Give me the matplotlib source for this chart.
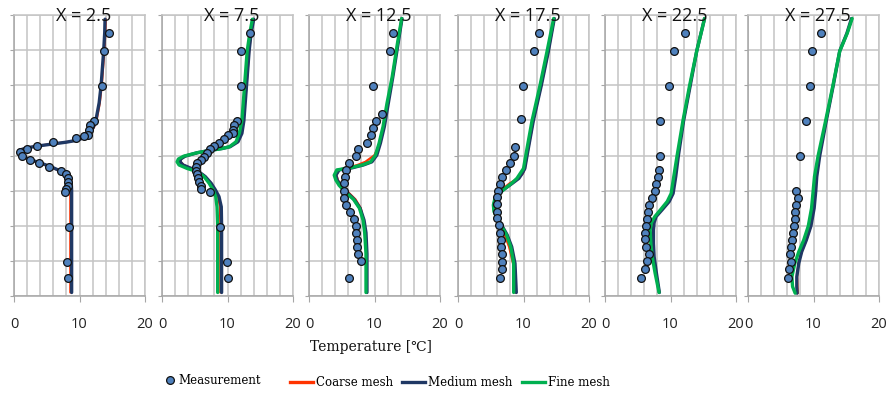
import matplotlib
matplotlib.use("Agg")
import matplotlib.pyplot as plt
from matplotlib.lines import Line2D

# ---------------- data ----------------
titles = ["X = 2.5", "X = 7.5", "X = 12.5", "X = 17.5", "X = 22.5", "X = 27.5"]
x_ticks = [0, 10, 20]

# measured temperature [C] and height (grid units)
meas_t1 = [14.55, 13.7, 13.4, 12.2, 11.6, 11.5, 11.35, 10.7, 9.5, 6.0, 3.56, 2.0, 0.9, 1.17,
           2.44, 3.87, 5.4, 7.2, 7.9, 8.3, 8.3, 8.24, 8.0, 7.8, 8.4, 8.14, 8.2]
meas_y1 = [7.48, 6.97, 5.98, 4.99, 4.87, 4.72, 4.58, 4.55, 4.49, 4.39, 4.28, 4.18, 4.09, 3.98,
           3.87, 3.80, 3.68, 3.57, 3.47, 3.37, 3.25, 3.14, 3.04, 2.97, 1.97, 0.98, 0.50]
meas_t2 = [13.4, 12.1, 12.05, 11.4, 11.0, 10.9, 10.8, 10.1, 9.4, 8.7, 7.9, 7.3, 6.9, 6.4, 5.9,
           5.4, 5.2, 5.2, 5.4, 5.5, 5.7, 5.9, 6.0, 7.3, 8.9, 9.9, 10.1]
meas_y2 = [7.48, 6.97, 5.98, 4.99, 4.87, 4.72, 4.63, 4.58, 4.48, 4.36, 4.28, 4.18, 4.08, 3.97,
           3.87, 3.78, 3.68, 3.57, 3.47, 3.37, 3.25, 3.14, 3.04, 2.97, 1.97, 0.98, 0.50]
meas_t3 = [12.8, 12.3, 9.8, 11.1, 10.3, 9.8, 9.4, 8.8, 7.5, 7.2, 6.05, 5.7, 5.5, 5.4, 5.4, 5.4,
           5.6, 6.3, 6.8, 7.1, 7.2, 7.3, 7.3, 7.5, 7.9, 6.05]
meas_y3 = [7.48, 6.97, 5.98, 5.18, 4.99, 4.77, 4.58, 4.37, 4.18, 3.98, 3.78, 3.59, 3.40, 3.21,
           3.00, 2.78, 2.59, 2.40, 2.18, 1.99, 1.80, 1.59, 1.39, 1.20, 1.00, 0.50]
meas_t4 = [12.3, 11.6, 9.9, 9.6, 8.7, 8.6, 7.9, 7.3, 6.7, 6.4, 6.05, 5.9, 5.9, 5.9, 6.0, 6.2,
           6.4, 6.5, 6.6, 6.7, 6.7, 6.7, 6.4]
meas_y4 = [7.48, 6.97, 5.98, 5.04, 4.25, 3.98, 3.78, 3.59, 3.40, 3.19, 3.00, 2.81, 2.62, 2.40,
           2.21, 2.02, 1.80, 1.59, 1.40, 1.20, 0.98, 0.76, 0.50]
meas_t5 = [12.25, 10.5, 9.8, 8.45, 8.45, 8.25, 8.1, 7.85, 7.6, 7.1, 6.7, 6.5, 6.4, 6.2, 6.1,
           6.1, 6.3, 6.7, 6.4, 6.1, 5.5]
meas_y5 = [7.48, 6.97, 5.98, 4.99, 3.98, 3.59, 3.40, 3.19, 3.00, 2.78, 2.59, 2.38, 2.19, 1.99,
           1.80, 1.61, 1.39, 1.20, 1.00, 0.76, 0.50]
meas_t6 = [11.2, 9.8, 9.5, 8.8, 7.9, 7.35, 7.65, 7.4, 7.2, 7.2, 7.0, 6.8, 6.7, 6.5, 6.4, 6.5,
           6.3, 6.1]
meas_y6 = [7.48, 6.97, 5.98, 4.99, 3.98, 3.00, 2.78, 2.59, 2.38, 2.19, 1.99, 1.80, 1.59, 1.39,
           1.20, 0.98, 0.76, 0.50]

# simulated profiles: heights and temperatures for coarse / medium / fine meshes
sim_y1 = [0.1, 1.0, 2.0, 3.0, 3.2, 3.35, 3.45, 3.55, 3.65, 3.75, 3.85, 3.95, 4.05, 4.15, 4.22,
          4.28, 4.33, 4.38, 4.43, 4.5, 4.6, 4.8, 5.0, 5.5, 6.0, 7.0, 7.5, 7.88]
coarse_t1 = [8.6, 8.6, 8.6, 8.6, 8.55, 8.35, 7.9, 7.1, 5.9, 4.5, 2.9, 1.5, 0.85, 0.75, 1.9,
             3.9, 5.9, 7.9, 9.4, 10.6, 11.5, 12.2, 12.6, 13.1, 13.4, 13.8, 13.95, 14.0]
medium_t1 = [8.8, 8.8, 8.8, 8.8, 8.75, 8.5, 8.0, 7.2, 6.0, 4.6, 3.0, 1.6, 0.9, 0.8, 2.0,
             4.0, 6.0, 8.0, 9.5, 10.6, 11.4, 12.1, 12.5, 13.0, 13.3, 13.7, 13.85, 13.9]
fine_t1 = None

sim_y2 = [0.1, 1.0, 2.0, 2.54, 2.83, 3.02, 3.21, 3.40, 3.54, 3.63, 3.73, 3.82, 3.9, 3.98, 4.08,
          4.16, 4.2, 4.25, 4.39, 4.63, 4.99, 5.98, 6.97, 7.48, 7.88]
coarse_t2 = [8.9, 8.9, 8.9, 8.85, 8.55, 8.05, 7.45, 6.6, 5.6, 4.5, 3.3, 2.85, 2.9, 3.6, 5.5,
             7.9, 9.2, 10.3, 11.4, 12.0, 12.4, 12.9, 13.3, 13.6, 14.0]
medium_t2 = [9.1, 9.1, 9.1, 9.05, 8.7, 8.15, 7.5, 6.6, 5.6, 4.5, 3.2, 2.75, 2.85, 3.5, 5.4,
             7.8, 9.2, 10.4, 11.6, 12.2, 12.5, 12.9, 13.3, 13.6, 14.0]
fine_t2 = [8.5, 8.5, 8.5, 8.4, 8.2, 7.8, 7.2, 6.4, 5.4, 3.85, 2.6, 2.3, 2.5, 3.3, 5.4,
           7.9, 9.2, 10.3, 11.3, 11.8, 12.2, 12.6, 13.0, 13.4, 13.8]

sim_y3 = [0.1, 0.6, 1.2, 1.8, 2.16, 2.5, 2.75, 2.97, 3.15, 3.3, 3.44, 3.59, 3.65, 3.73, 3.82,
          4.01, 4.35, 4.82, 5.48, 6.24, 7.19, 7.9]
coarse_t3 = [8.8, 8.8, 8.8, 8.6, 8.3, 7.9, 7.1, 5.9, 4.9, 4.4, 4.2, 4.5, 5.9, 7.4, 8.6,
             10.0, 10.8, 11.4, 12.0, 12.75, 13.55, 14.2]
medium_t3 = [8.85, 8.85, 8.85, 8.7, 8.4, 7.8, 6.9, 5.7, 4.8, 4.3, 4.1, 4.6, 6.6, 8.3, 9.6,
             10.35, 10.9, 11.5, 12.1, 12.8, 13.6, 14.2]
fine_t3 = [8.7, 8.7, 8.7, 8.5, 8.25, 7.7, 6.8, 5.5, 4.6, 4.1, 3.85, 4.25, 6.3, 8.1, 9.4,
           10.15, 10.7, 11.3, 11.9, 12.7, 13.5, 14.15]

sim_y4 = [0.1, 0.93, 1.4, 1.74, 1.97, 2.21, 2.40, 2.59, 2.75, 2.92, 3.02, 3.21, 3.35, 3.49,
          3.63, 4.06, 4.99, 5.98, 6.97, 7.9]
coarse_t4 = [8.7, 8.4, 7.8, 7.1, 6.5, 5.9, 5.5, 5.4, 5.6, 6.1, 6.6, 7.9, 9.2, 9.9,
             10.2, 10.6, 11.5, 12.7, 13.8, 14.7]
medium_t4 = [8.9, 8.7, 8.2, 7.5, 6.8, 6.1, 5.6, 5.5, 5.7, 6.3, 6.9, 8.3, 9.3, 9.8,
             10.2, 10.6, 11.5, 12.7, 13.8, 14.7]
fine_t4 = [8.5, 8.5, 8.05, 7.4, 6.7, 6.0, 5.5, 5.4, 5.6, 6.3, 6.9, 8.2, 9.0, 9.5,
           10.0, 10.4, 11.3, 12.5, 13.6, 14.6]

sim_y5 = [0.1, 0.65, 1.12, 1.5, 1.88, 2.09, 2.26, 2.45, 2.69, 2.92, 3.4, 3.99, 4.99, 5.98,
          6.97, 7.9]
coarse_t5 = [8.3, 7.8, 7.45, 7.35, 7.35, 7.4, 7.7, 8.5, 9.6, 10.2, 10.65, 11.1, 12.0, 13.0,
             14.0, 15.2]
medium_t5 = [8.3, 7.85, 7.5, 7.4, 7.4, 7.5, 7.8, 8.7, 9.8, 10.4, 10.8, 11.2, 12.0, 13.0,
             14.0, 15.2]
fine_t5 = [8.25, 7.65, 7.2, 7.0, 6.9, 7.1, 7.6, 8.45, 9.5, 10.1, 10.5, 11.0, 11.9, 12.9,
           14.0, 15.2]

sim_y6 = [0.08, 0.27, 0.55, 0.93, 1.26, 1.59, 1.99, 2.5, 3.0, 3.4, 3.99, 4.99, 5.98, 6.97,
          7.48, 7.9]
coarse_t6 = [7.6, 7.55, 7.5, 7.7, 8.2, 8.9, 9.6, 10.05, 10.3, 10.45, 10.9, 11.95, 13.0, 14.0,
             15.15, 15.9]
medium_t6 = [7.5, 7.45, 7.45, 7.75, 8.2, 8.9, 9.6, 10.1, 10.35, 10.5, 10.95, 11.95, 13.0, 14.0,
             15.1, 15.8]
fine_t6 = [7.2, 6.8, 6.7, 7.15, 7.75, 8.5, 9.2, 9.7, 9.95, 10.15, 10.7, 11.85, 12.95, 14.0,
           15.15, 15.9]

meas_t = [meas_t1, meas_t2, meas_t3, meas_t4, meas_t5, meas_t6]
meas_y = [meas_y1, meas_y2, meas_y3, meas_y4, meas_y5, meas_y6]
sim_y = [sim_y1, sim_y2, sim_y3, sim_y4, sim_y5, sim_y6]
coarse_t = [coarse_t1, coarse_t2, coarse_t3, coarse_t4, coarse_t5, coarse_t6]
medium_t = [medium_t1, medium_t2, medium_t3, medium_t4, medium_t5, medium_t6]
fine_t = [fine_t1, fine_t2, fine_t3, fine_t4, fine_t5, fine_t6]

# ---------------- styling ----------------
C_MEAS = "#4F81BD"
C_COARSE = "#FF3300"
C_MEDIUM = "#1F3864"
C_FINE = "#00B050"
C_GRID = "#C4C4C4"
C_AXIS = "#A6A6A6"

W, H = 888, 397
fig = plt.figure(figsize=(W / 100, H / 100), dpi=100)

lefts_px = [14, 162, 309, 458, 605, 748]
width_px = 131
top_px, bottom_px = 15, 296

for i in range(6):
    ax = fig.add_axes([lefts_px[i] / W, 1 - bottom_px / H, width_px / W,
                       (bottom_px - top_px) / H])
    ax.set_xlim(0, 20)
    ax.set_ylim(0, 8)
    ax.set_xticks(x_ticks)
    ax.set_xticks(range(0, 21, 2), minor=True)
    ax.set_yticks(range(0, 9))
    ax.set_yticklabels([])
    ax.grid(True, which="both", axis="x", color=C_GRID, lw=1.1)
    ax.grid(True, which="major", axis="y", color=C_GRID, lw=1.1)
    ax.set_axisbelow(True)
    for side in ("top", "right"):
        ax.spines[side].set_color(C_GRID)
        ax.spines[side].set_linewidth(1.1)
    for side in ("left", "bottom"):
        ax.spines[side].set_color(C_AXIS)
        ax.spines[side].set_linewidth(1.1)
    ax.tick_params(axis="x", which="major", length=4, color=C_AXIS, pad=11,
                   labelsize=10.5, labelcolor="#222222")
    ax.tick_params(axis="x", which="minor", length=0)
    ax.tick_params(axis="y", length=3, color=C_AXIS)
    for lab in ax.get_xticklabels():
        lab.set_fontfamily("Open Sans")

    ax.plot(coarse_t[i], sim_y[i], color=C_COARSE, lw=1.6, solid_capstyle="round",
            zorder=3)
    ax.plot(medium_t[i], sim_y[i], color=C_MEDIUM, lw=2.4, solid_capstyle="round",
            zorder=4)
    if fine_t[i] is not None:
        ax.plot(fine_t[i], sim_y[i], color=C_FINE, lw=2.4, solid_capstyle="round",
                zorder=5)
    ax.plot(meas_t[i], meas_y[i], linestyle="none", marker="o", ms=5.6,
            mfc=C_MEAS, mec="#111111", mew=0.9, zorder=6, clip_on=False)

    ax.text(10.6, 7.97, titles[i], ha="center", va="center", fontsize=13,
            family="Open Sans", color="#111111", zorder=7)

fig.text(0.418, 0.126, "Temperature [℃]", ha="center", va="center", fontsize=10,
         family=["DejaVu Serif", "DejaVu Sans"], color="#111111")

legend_font = {"family": "DejaVu Serif", "size": 8.5}
meas_handle = Line2D([], [], linestyle="none", marker="o", ms=5.6, mfc=C_MEAS,
                     mec="#111111", mew=0.9)
leg1 = fig.legend([meas_handle], ["Measurement"], loc="center left",
                  bbox_to_anchor=(159 / W, 1 - 381 / H), frameon=False, prop=legend_font,
                  handlelength=1.0, handletextpad=0.25, borderaxespad=0)
mesh_handles = [
    Line2D([], [], color=C_COARSE, lw=2.4),
    Line2D([], [], color=C_MEDIUM, lw=2.4),
    Line2D([], [], color=C_FINE, lw=2.4),
]
fig.legend(mesh_handles, ["Coarse mesh", "Medium mesh", "Fine mesh"], loc="center left",
           bbox_to_anchor=(285 / W, 1 - 383 / H), ncol=3, frameon=False, prop=legend_font,
           handlelength=1.95, handletextpad=0.25, columnspacing=0.8, borderaxespad=0)

fig.savefig("out.png", dpi=100)
